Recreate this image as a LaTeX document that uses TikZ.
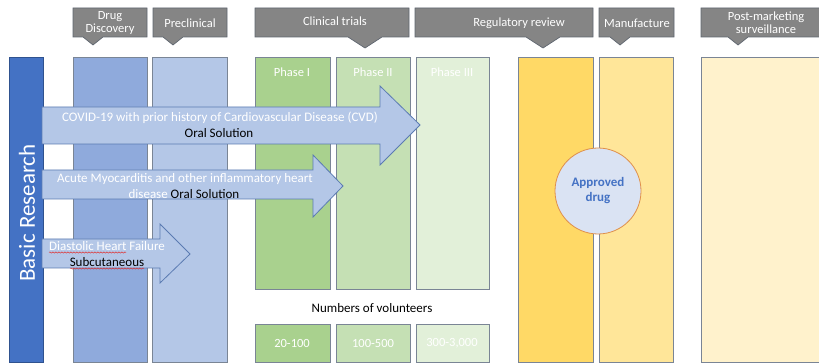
\documentclass[tikz,border=0pt]{standalone}
\usepackage{fontspec}
\setmainfont{Carlito}
\usetikzlibrary{decorations.pathmorphing}
\definecolor{basicblue}{HTML}{4472C4}
\definecolor{basicedge}{HTML}{2F528F}
\definecolor{ddblue}{HTML}{8FAADC}
\definecolor{preblue}{HTML}{B4C7E7}
\definecolor{arrowfill}{HTML}{B4C7E7}
\definecolor{arrowedge}{HTML}{5B7BB2}
\definecolor{ph1}{HTML}{A9D18E}
\definecolor{ph2}{HTML}{C5E0B4}
\definecolor{ph3}{HTML}{E2F0D9}
\definecolor{regy}{HTML}{FFD966}
\definecolor{many}{HTML}{FFE699}
\definecolor{posty}{HTML}{FFF2CC}
\definecolor{coledge}{HTML}{7A8595}
\definecolor{hdrfill}{HTML}{858585}
\definecolor{hdredge}{HTML}{5F6670}
\definecolor{circfill}{HTML}{DAE3F3}
\definecolor{circedge}{HTML}{E0904A}
\definecolor{spellred}{HTML}{E03030}
\begin{document}
\begin{tikzpicture}[x=1pt,y=-1pt,
  colbox/.style={draw=coledge,line width=0.8pt},
  hdr/.style={fill=hdrfill,draw=hdredge,line width=0.7pt},
  hdrtext/.style={text=white,font=\fontsize{12.5}{14}\selectfont,align=center,inner sep=0pt},
  arrowshape/.style={fill=arrowfill,draw=arrowedge,line width=0.8pt},
  wtext/.style={text=white,font=\fontsize{13}{15}\selectfont,inner sep=0pt},
  btext/.style={text=black,font=\fontsize{13}{15}\selectfont,inner sep=0pt},
  phtext/.style={text=white,font=\fontsize{12.5}{14}\selectfont,inner sep=0pt},
  squig/.style={draw=spellred,line width=0.5pt,decorate,decoration={snake,amplitude=0.6pt,segment length=3pt}}
]
\useasboundingbox (0,0) rectangle (819,363);
\clip (0,0) rectangle (819,363);
\fill[white] (0,0) rectangle (819,363);

% columns
\draw[colbox,fill=ddblue] (73,57) rectangle (147,362);
\draw[colbox,fill=preblue] (152,57) rectangle (227,362);
\draw[colbox,fill=ph1] (255,57) rectangle (330,289);
\draw[colbox,fill=ph2] (336,57) rectangle (410,289);
\draw[colbox,fill=ph3] (416,57) rectangle (489,289);
\draw[colbox,fill=ph1] (255,324) rectangle (330,362);
\draw[colbox,fill=ph2] (336,324) rectangle (410,362);
\draw[colbox,fill=ph3] (416,324) rectangle (489,362);
\draw[colbox,fill=regy] (518,57) rectangle (593,362);
\draw[colbox,fill=many] (599,57) rectangle (673,362);
\draw[colbox,fill=posty] (701,57) rectangle (840,362);

% basic research bar
\draw[fill=basicblue,draw=basicedge,line width=0.8pt] (9,57) rectangle (43,362);
\node[rotate=90,text=white,font=\fontsize{23}{26}\selectfont,inner sep=0pt] (basic) at (27,213) {Basic Research};

% phase labels
\node[phtext] (p1) at (292,72) {Phase I};
\node[phtext] (p2) at (373,72) {Phase II};
\node[phtext] (p3) at (452,72) {Phase III};
\node[font=\fontsize{13}{15}\selectfont,inner sep=0pt] (vol) at (372,308) {Numbers of volunteers};
\node[phtext] (v1) at (292,343) {20-100};
\node[phtext] (v2) at (373,343) {100-500};
\node[phtext] (v3) at (452,343) {300-3,000};

% headers
\draw[hdr] (73,8) -- (147,8) -- (147,37) -- (103,37) -- (93,45) -- (83,37) -- (73,37) -- cycle;
\node[hdrtext] (hdd) at (110,23) {Drug\\[-1pt]Discovery};
\draw[hdr] (153,8) -- (227,8) -- (227,37) -- (183,37) -- (173,45) -- (163,37) -- (153,37) -- cycle;
\node[hdrtext] (hpre) at (190,23) {Preclinical};
\draw[hdr] (255,8) -- (409,8) -- (409,37) -- (382,37) -- (365,48) -- (348,37) -- (255,37) -- cycle;
\node[hdrtext] (hct) at (335,21) {Clinical trials};
\draw[hdr] (415,8) -- (593,8) -- (593,37) -- (560,37) -- (543,48) -- (526,37) -- (415,37) -- cycle;
\node[hdrtext] (hrr) at (519,23) {Regulatory review};
\draw[hdr] (599,8) -- (674,8) -- (674,37) -- (630,37) -- (620,45) -- (610,37) -- (599,37) -- cycle;
\node[hdrtext] (hman) at (637,23) {Manufacture};
\draw[hdr] (701,8) -- (840,8) -- (840,37) -- (748,37) -- (738,45) -- (728,37) -- (701,37) -- cycle;
\node[hdrtext] (hpm) at (766,23) {Post-marketing\\[-1pt]surveillance};

% arrows
\draw[arrowshape] (42,107) -- (380,107) -- (380,86) -- (420,125) -- (380,165) -- (380,144) -- (42,144) -- cycle;
\node[wtext] (a1a) at (220,118) {COVID-19 with prior history of Cardiovascular Disease (CVD)};
\node[btext] (a1b) at (219,133) {Oral Solution};

\draw[arrowshape] (42,170) -- (313,170) -- (313,155) -- (343,186) -- (313,217) -- (313,199) -- (42,199) -- cycle;
\node[wtext] (a2a) at (185,179) {Acute Myocarditis and other inflammatory heart};
\node[inner sep=0pt,font=\fontsize{13}{15}\selectfont] (a2b) at (184,194) {\textcolor{white}{disease} Oral Solution};

\draw[arrowshape] (42,239) -- (160,239) -- (160,224) -- (190,254) -- (160,283) -- (160,268) -- (42,268) -- cycle;
\node[wtext] (a3a) at (107,246) {Diastolic Heart Failure};
\node[btext] (a3b) at (107,262) {Subcutaneous};
\draw[squig] (49,252.5) -- (126,252.5);
\draw[squig] (70,268.5) -- (144,268.5);

% approved drug
\node[circle,fill=circfill,draw=circedge,line width=0.8pt,minimum size=86pt,inner sep=0pt,
  text=basicblue,font=\bfseries\fontsize{13}{15}\selectfont,align=center] (appr) at (598,191) {Approved\\drug};
\end{tikzpicture}
\end{document}
